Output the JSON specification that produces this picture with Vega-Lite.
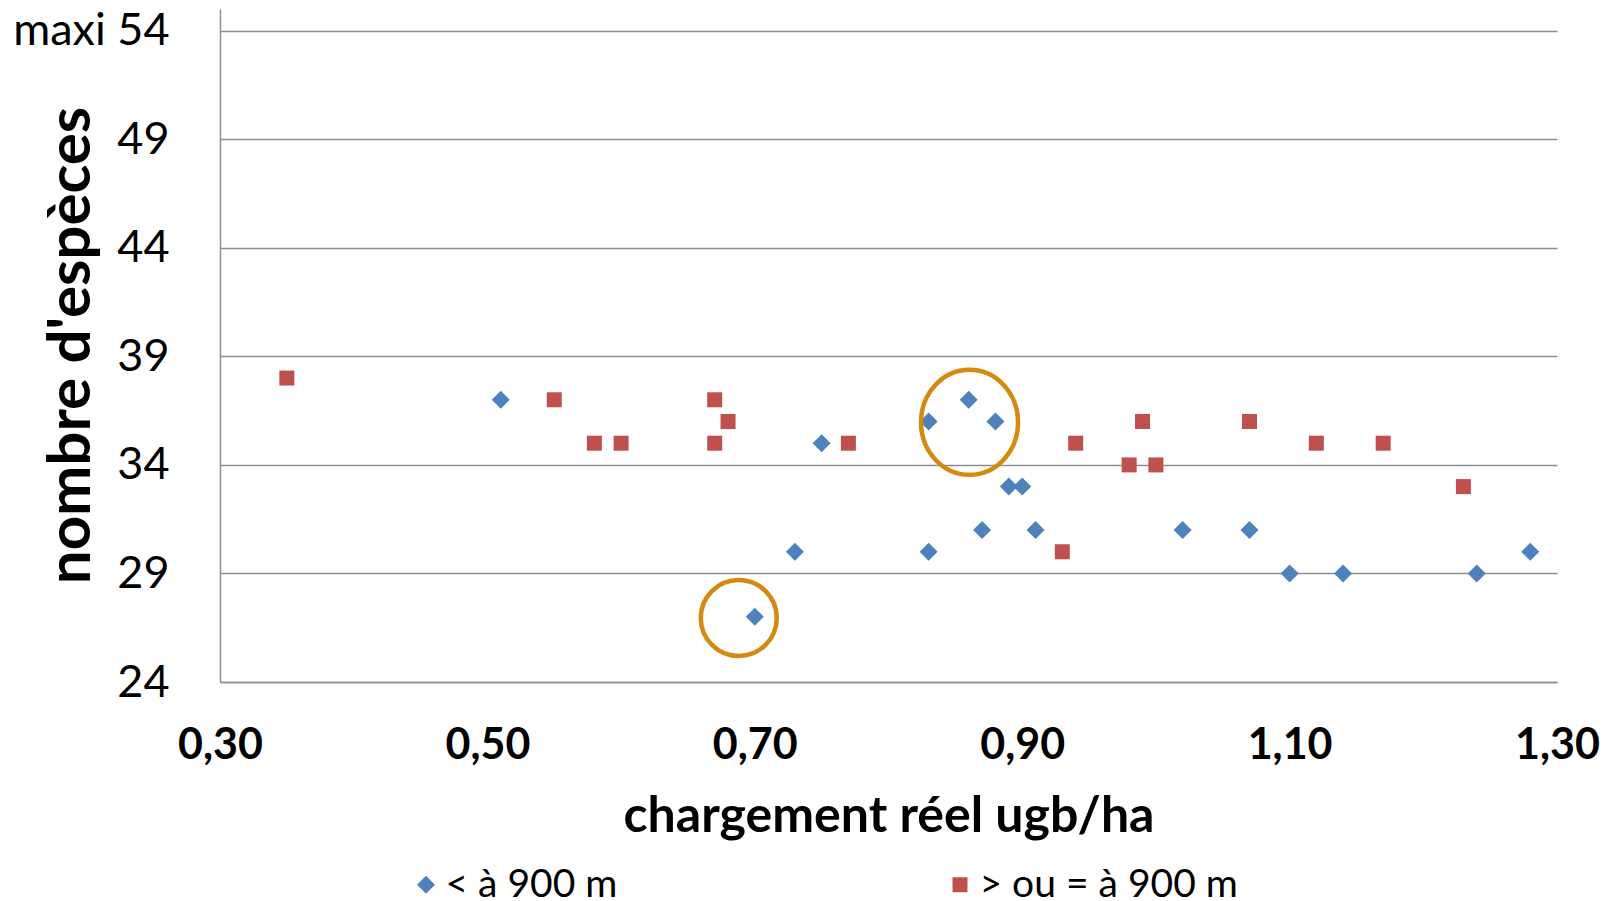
{
  "$schema": "https://vega.github.io/schema/vega-lite/v6.json",
  "width": 1337,
  "height": 673,
  "autosize": {"type": "none"},
  "padding": {"left": 220, "top": 9, "right": 47, "bottom": 219},
  "background": "white",
  "config": {"view": {"stroke": null}, "font": "Lato"},
  "datasets": {
    "points": [
      {"chargement": 0.35, "especes": 38, "serie": "> ou = à 900 m"},
      {"chargement": 0.55, "especes": 37, "serie": "> ou = à 900 m"},
      {"chargement": 0.58, "especes": 35, "serie": "> ou = à 900 m"},
      {"chargement": 0.60, "especes": 35, "serie": "> ou = à 900 m"},
      {"chargement": 0.67, "especes": 37, "serie": "> ou = à 900 m"},
      {"chargement": 0.68, "especes": 36, "serie": "> ou = à 900 m"},
      {"chargement": 0.67, "especes": 35, "serie": "> ou = à 900 m"},
      {"chargement": 0.77, "especes": 35, "serie": "> ou = à 900 m"},
      {"chargement": 0.93, "especes": 30, "serie": "> ou = à 900 m"},
      {"chargement": 0.94, "especes": 35, "serie": "> ou = à 900 m"},
      {"chargement": 0.98, "especes": 34, "serie": "> ou = à 900 m"},
      {"chargement": 0.99, "especes": 36, "serie": "> ou = à 900 m"},
      {"chargement": 1.00, "especes": 34, "serie": "> ou = à 900 m"},
      {"chargement": 1.07, "especes": 36, "serie": "> ou = à 900 m"},
      {"chargement": 1.12, "especes": 35, "serie": "> ou = à 900 m"},
      {"chargement": 1.17, "especes": 35, "serie": "> ou = à 900 m"},
      {"chargement": 1.23, "especes": 33, "serie": "> ou = à 900 m"},
      {"chargement": 0.51, "especes": 37, "serie": "< à 900 m"},
      {"chargement": 0.70, "especes": 27, "serie": "< à 900 m"},
      {"chargement": 0.73, "especes": 30, "serie": "< à 900 m"},
      {"chargement": 0.75, "especes": 35, "serie": "< à 900 m"},
      {"chargement": 0.83, "especes": 36, "serie": "< à 900 m"},
      {"chargement": 0.83, "especes": 30, "serie": "< à 900 m"},
      {"chargement": 0.86, "especes": 37, "serie": "< à 900 m"},
      {"chargement": 0.87, "especes": 31, "serie": "< à 900 m"},
      {"chargement": 0.88, "especes": 36, "serie": "< à 900 m"},
      {"chargement": 0.89, "especes": 33, "serie": "< à 900 m"},
      {"chargement": 0.90, "especes": 33, "serie": "< à 900 m"},
      {"chargement": 0.91, "especes": 31, "serie": "< à 900 m"},
      {"chargement": 1.02, "especes": 31, "serie": "< à 900 m"},
      {"chargement": 1.07, "especes": 31, "serie": "< à 900 m"},
      {"chargement": 1.10, "especes": 29, "serie": "< à 900 m"},
      {"chargement": 1.14, "especes": 29, "serie": "< à 900 m"},
      {"chargement": 1.24, "especes": 29, "serie": "< à 900 m"},
      {"chargement": 1.28, "especes": 30, "serie": "< à 900 m"}
    ]
  },
  "layer": [
    {
      "data": {"name": "points"},
      "mark": {"type": "point", "filled": true, "opacity": 1, "strokeWidth": 0},
      "encoding": {
        "x": {
          "field": "chargement",
          "type": "quantitative",
          "scale": {"domain": [0.3, 1.3], "nice": false, "zero": false},
          "axis": {
            "values": [0.3, 0.5, 0.7, 0.9, 1.1, 1.3],
            "labelExpr": "replace(format(datum.value, '.2f'), '.', ',')",
            "grid": false,
            "ticks": false,
            "domain": true,
            "domainColor": "#8E8E8E",
            "domainWidth": 1.5,
            "labelFont": "Lato",
            "labelFontWeight": "bold",
            "labelFontSize": 43,
            "labelColor": "#000000",
            "labelBaseline": "middle",
            "labelPadding": 63,
            "labelFlush": false,
            "labelOverlap": false,
            "title": "chargement réel ugb/ha",
            "titleFont": "Lato",
            "titleFontSize": 50,
            "titleFontWeight": "bold",
            "titleColor": "#000000",
            "titleBaseline": "middle",
            "titleY": 134
          }
        },
        "y": {
          "field": "especes",
          "type": "quantitative",
          "scale": {"domain": [24, 55], "nice": false, "zero": false},
          "axis": {
            "values": [24, 29, 34, 39, 44, 49, 54],
            "labelExpr": "datum.value == 54 ? 'maxi 54' : datum.label",
            "grid": true,
            "gridColor": "#8E8E8E",
            "gridWidth": 1.5,
            "ticks": false,
            "domain": true,
            "domainColor": "#8E8E8E",
            "domainWidth": 1.5,
            "labelFont": "Lato",
            "labelFontSize": 45,
            "labelColor": "#000000",
            "labelPadding": 51,
            "labelOverlap": false,
            "labelFlush": false,
            "title": "nombre d'espèces",
            "titleFont": "Lato",
            "titleFontSize": 60,
            "titleFontWeight": "bold",
            "titleColor": "#000000",
            "titleAngle": -90,
            "titleAlign": "center",
            "titleBaseline": "middle",
            "titleX": -149,
            "titleY": 336
          }
        },
        "color": {
          "field": "serie",
          "type": "nominal",
          "scale": {"domain": ["< à 900 m", "> ou = à 900 m"], "range": ["#4F81BD", "#C0504D"]},
          "legend": {
            "orient": "none",
            "legendX": 186.5,
            "legendY": 856,
            "direction": "horizontal",
            "title": null,
            "padding": 0,
            "labelFont": "Lato",
            "labelFontSize": 39,
            "labelColor": "#000000",
            "labelLimit": 0,
            "labelOffset": 0,
            "columnPadding": 323,
            "symbolOpacity": 1,
            "symbolStrokeWidth": 0
          }
        },
        "shape": {
          "field": "serie",
          "type": "nominal",
          "scale": {"domain": ["< à 900 m", "> ou = à 900 m"], "range": ["diamond", "square"]}
        },
        "size": {
          "field": "serie",
          "type": "nominal",
          "scale": {"domain": ["< à 900 m", "> ou = à 900 m"], "range": [324, 225]}
        }
      }
    },
    {
      "data": {"values": [{"chargement": 0.8606, "especes": 35.96}]},
      "mark": {
        "type": "point",
        "shape": "M -0.924 0 A 0.924 1 0 1 0 0.924 0 A 0.924 1 0 1 0 -0.924 0 Z",
        "size": 11025,
        "filled": false,
        "color": "#D68910",
        "stroke": "#D68910",
        "strokeWidth": 4.5,
        "opacity": 1
      },
      "encoding": {
        "x": {"field": "chargement", "type": "quantitative"},
        "y": {"field": "especes", "type": "quantitative"}
      }
    },
    {
      "data": {"values": [{"chargement": 0.688, "especes": 26.95}]},
      "mark": {
        "type": "point",
        "shape": "circle",
        "size": 5776,
        "filled": false,
        "color": "#D68910",
        "stroke": "#D68910",
        "strokeWidth": 4.5,
        "opacity": 1
      },
      "encoding": {
        "x": {"field": "chargement", "type": "quantitative"},
        "y": {"field": "especes", "type": "quantitative"}
      }
    }
  ]
}
